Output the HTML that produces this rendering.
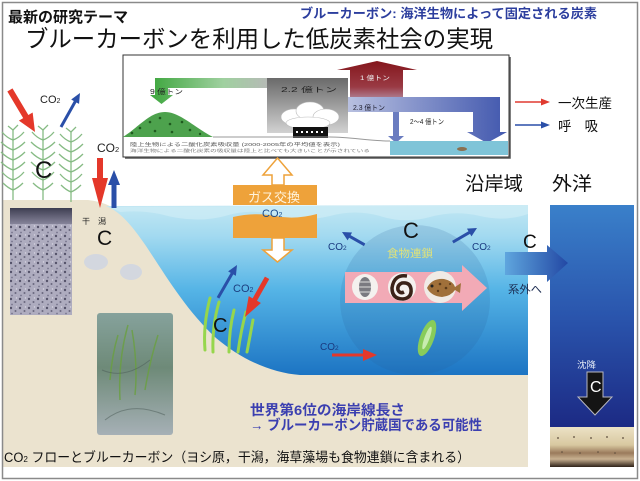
<!DOCTYPE html>
<html><head><meta charset="utf-8">
<style>
html,body{margin:0;padding:0;background:#fff;}
svg{display:block;}
text{font-family:"Liberation Sans","Noto Sans CJK JP",sans-serif;}
</style></head><body>
<svg width="640" height="481" viewBox="0 0 640 481" xmlns="http://www.w3.org/2000/svg">
<defs>
  <linearGradient id="water" gradientUnits="userSpaceOnUse" x1="0" y1="205" x2="0" y2="375">
    <stop offset="0" stop-color="#c2e7f3"/>
    <stop offset="0.18" stop-color="#a3daf0"/>
    <stop offset="0.5" stop-color="#55b4e6"/>
    <stop offset="1" stop-color="#1c74c3"/>
  </linearGradient>
  <linearGradient id="ocean" gradientUnits="userSpaceOnUse" x1="0" y1="205" x2="0" y2="427">
    <stop offset="0" stop-color="#3a80ca"/>
    <stop offset="0.5" stop-color="#2a55ad"/>
    <stop offset="1" stop-color="#1c2a84"/>
  </linearGradient>
  <linearGradient id="sed" gradientUnits="userSpaceOnUse" x1="0" y1="427" x2="0" y2="467">
    <stop offset="0" stop-color="#ece2c6"/>
    <stop offset="0.45" stop-color="#d8c8a0"/>
    <stop offset="0.65" stop-color="#9a7a5c"/>
    <stop offset="0.8" stop-color="#c8b090"/>
    <stop offset="1" stop-color="#2e2218"/>
  </linearGradient>
  <linearGradient id="outArrow" gradientUnits="userSpaceOnUse" x1="505" y1="0" x2="568" y2="0">
    <stop offset="0" stop-color="#5fa6de"/>
    <stop offset="1" stop-color="#2348a4"/>
  </linearGradient>
  <linearGradient id="greenBand" gradientUnits="userSpaceOnUse" x1="150" y1="0" x2="272" y2="0">
    <stop offset="0" stop-color="#3da63d"/>
    <stop offset="0.6" stop-color="#9fd09f"/>
    <stop offset="1" stop-color="#b8b8b8"/>
  </linearGradient>
  <linearGradient id="grayBox" gradientUnits="userSpaceOnUse" x1="0" y1="78" x2="0" y2="133">
    <stop offset="0" stop-color="#6a6a6a"/>
    <stop offset="1" stop-color="#d2d2d2"/>
  </linearGradient>
  <linearGradient id="redUp" gradientUnits="userSpaceOnUse" x1="0" y1="61" x2="0" y2="104">
    <stop offset="0" stop-color="#84161c"/>
    <stop offset="0.6" stop-color="#9a3a44"/>
    <stop offset="1" stop-color="#b8a0b8"/>
  </linearGradient>
  <linearGradient id="blueBand" gradientUnits="userSpaceOnUse" x1="348" y1="0" x2="507" y2="0">
    <stop offset="0" stop-color="#b8c0e0"/>
    <stop offset="1" stop-color="#4258ae"/>
  </linearGradient>
  <linearGradient id="photo2" gradientUnits="userSpaceOnUse" x1="0" y1="313" x2="0" y2="435">
    <stop offset="0" stop-color="#86a29c"/>
    <stop offset="0.45" stop-color="#6e8a78"/>
    <stop offset="1" stop-color="#a6b0b6"/>
  </linearGradient>
  <linearGradient id="coreTop" gradientUnits="userSpaceOnUse" x1="0" y1="208" x2="0" y2="225">
    <stop offset="0" stop-color="#3e3e52"/>
    <stop offset="1" stop-color="#8a889e"/>
  </linearGradient>
  <pattern id="speck" width="9" height="9" patternUnits="userSpaceOnUse">
    <rect width="9" height="9" fill="#aeacbf"/>
    <circle cx="2" cy="2" r="1.2" fill="#55536a"/>
    <circle cx="6.5" cy="5" r="1" fill="#6a687e"/>
    <circle cx="3" cy="7.5" r="0.9" fill="#77758c"/>
    <circle cx="7.5" cy="1" r="0.7" fill="#d8d6e2"/>
  </pattern>
  <g id="reed" stroke="#86bb84" stroke-width="1.3" fill="none">
    <path d="M0,70 L0,0"/>
    <path d="M0,10 Q-6,8 -11,2 M0,10 Q6,8 11,2"/>
    <path d="M0,20 Q-6,18 -12,12 M0,20 Q6,18 12,12"/>
    <path d="M0,30 Q-6,28 -12,22 M0,30 Q6,28 12,22"/>
    <path d="M0,40 Q-6,38 -12,32 M0,40 Q6,38 12,32"/>
    <path d="M0,50 Q-6,48 -11,42 M0,50 Q6,48 11,42"/>
    <path d="M0,60 Q-5,58 -10,53 M0,60 Q5,58 10,53"/>
    <path d="M0,0 L-5,-4 M0,0 L5,-5"/>
  </g>
</defs>

<rect width="640" height="481" fill="#fff"/>

<!-- beige land -->
<path d="M3,200 L88,200 Q100,201 112,207 L528,207 L528,467 L3,467 Z" fill="#ebe3cf"/>

<!-- water -->
<path d="M106,206 L528,205 L528,375 L300,375 C272,373 242,360 216,338 C186,310 166,276 146,246 C132,226 121,212 106,206 Z" fill="url(#water)"/>
<path d="M110,207 L528,205 L528,214 Q505,222 480,216 Q455,210 430,217 Q405,224 380,216 Q355,209 330,216 Q300,223 275,215 Q250,208 225,216 Q195,224 160,214 Q140,210 120,212 Z" fill="#d2eef7" opacity="0.6"/>

<!-- food chain circle -->
<circle cx="415" cy="300" r="75" fill="#2a5c98" opacity="0.17"/>

<!-- outer ocean -->
<rect x="550" y="205" width="84" height="222" fill="url(#ocean)"/>
<rect x="550" y="427" width="84" height="40" fill="url(#sed)"/>
<g fill="#5a4a3a">
  <circle cx="558" cy="438" r="0.9"/><circle cx="574" cy="437" r="0.9"/><circle cx="591" cy="438" r="0.9"/><circle cx="607" cy="437" r="0.9"/><circle cx="623" cy="438" r="0.9"/>
  <circle cx="562" cy="452" r="0.8"/><circle cx="580" cy="453" r="0.8"/><circle cx="598" cy="452" r="0.8"/><circle cx="615" cy="453" r="0.8"/>
</g>

<!-- border -->
<rect x="2.5" y="2.5" width="635" height="476" fill="none" stroke="#8a8a8a" stroke-width="1.5"/>

<!-- titles -->
<text x="8" y="22" font-size="15" font-weight="bold" fill="#111" textLength="120" lengthAdjust="spacingAndGlyphs">最新の研究テーマ</text>
<text x="300" y="18" font-size="13" font-weight="bold" fill="#2c3e9e" textLength="297" lengthAdjust="spacingAndGlyphs">ブルーカーボン: 海洋生物によって固定される炭素</text>
<text x="25" y="47" font-size="23.4" fill="#111" textLength="468" lengthAdjust="spacingAndGlyphs">ブルーカーボンを利用した低炭素社会の実現</text>

<!-- inset figure -->
<rect x="123" y="55" width="386" height="102" fill="#fff" stroke="#333" stroke-width="1"/>
<path d="M510,57 L510,158 L125,158" fill="none" stroke="#555" stroke-width="1.5"/>
<path d="M155,78 L272,78 L272,88 L168,88 L168,95 L173,95 L161.5,104 L150,95 L155,95 Z" fill="url(#greenBand)"/>
<rect x="267" y="78" width="81" height="55" fill="url(#grayBox)"/>
<g fill="#fff" stroke="#bbb" stroke-width="0.6">
  <ellipse cx="294" cy="117" rx="13" ry="8"/>
  <ellipse cx="310" cy="111" rx="14" ry="9"/>
  <ellipse cx="326" cy="117" rx="13" ry="8"/>
  <ellipse cx="308" cy="123" rx="22" ry="6"/>
</g>
<rect x="293" y="127" width="35" height="11" fill="#111"/>
<g fill="#fff"><rect x="296" y="131" width="2" height="2"/><rect x="301" y="131" width="2" height="2"/><rect x="306" y="131" width="2" height="2"/><rect x="311" y="131" width="2" height="2"/><rect x="316" y="131" width="2" height="2"/><rect x="321" y="131" width="2" height="2"/></g>
<path d="M350,104 L350,70 L337,70 L377,61 L417,70 L403,70 L403,104 Z" fill="url(#redUp)"/>
<path d="M348,97 L500,97 L500,132 L507,132 L487,143 L467,132 L473,132 L473,112 L348,112 Z" fill="url(#blueBand)"/>
<rect x="393" y="112" width="6" height="24" fill="#6a7cc0"/>
<path d="M388,136 L404,136 L396,143 Z" fill="#6a7cc0"/>
<path d="M123,137 C140,126 150,112 165,112 C180,112 195,128 213,137 Z" fill="#4da24d"/>
<g fill="#1f5a1f"><circle cx="140" cy="128" r="1.3"/><circle cx="150" cy="122" r="1.3"/><circle cx="160" cy="118" r="1.3"/><circle cx="170" cy="124" r="1.3"/><circle cx="182" cy="122" r="1.3"/><circle cx="190" cy="130" r="1.3"/><circle cx="155" cy="131" r="1.3"/><circle cx="172" cy="132" r="1.3"/><circle cx="132" cy="133" r="1.3"/><circle cx="200" cy="134" r="1.2"/></g>
<path d="M213,137 L330,137 C350,137 370,141 390,141" fill="none" stroke="#999" stroke-width="1"/>
<rect x="390" y="141" width="118" height="14" fill="#7fc4d8"/>
<ellipse cx="462" cy="149" rx="5" ry="2" fill="#8a7050"/>
<text x="150" y="94" font-size="7" fill="#222" textLength="33" lengthAdjust="spacingAndGlyphs">9 億トン</text>
<text x="281" y="92" font-size="7" fill="#222" textLength="56" lengthAdjust="spacingAndGlyphs">2.2 億トン</text>
<text x="360" y="80" font-size="6.5" fill="#eee" textLength="30" lengthAdjust="spacingAndGlyphs">1 億トン</text>
<text x="353" y="110" font-size="7" fill="#223" textLength="32" lengthAdjust="spacingAndGlyphs">2.3 億トン</text>
<text x="410" y="124" font-size="7" fill="#222" textLength="34" lengthAdjust="spacingAndGlyphs">2〜4 億トン</text>
<text x="130" y="146" font-size="4.8" fill="#555" textLength="210" lengthAdjust="spacingAndGlyphs">陸上生物による二酸化炭素吸収量 (2000-2005年の平均値を表示)</text>
<text x="130" y="152" font-size="3.8" fill="#777" textLength="240" lengthAdjust="spacingAndGlyphs">海洋生物による二酸化炭素の吸収量は陸上と比べても大きいことが示されている</text>

<!-- legend -->
<path d="M515,102 L542,102" stroke="#e03a30" stroke-width="1.5"/>
<path d="M541,98.5 L550,102 L541,105.5 Z" fill="#e03a30"/>
<path d="M515,125 L542,125" stroke="#2a4fa8" stroke-width="1.5"/>
<path d="M541,121.5 L550,125 L541,128.5 Z" fill="#2a4fa8"/>
<text x="558" y="108" font-size="13.5" fill="#111" textLength="54" lengthAdjust="spacingAndGlyphs">一次生産</text>
<text x="558" y="131" font-size="13.5" fill="#111" textLength="40" lengthAdjust="spacingAndGlyphs">呼　吸</text>

<text x="465" y="190" font-size="19" fill="#111" textLength="58" lengthAdjust="spacingAndGlyphs">沿岸域</text>
<text x="552" y="190" font-size="19" fill="#111" textLength="40" lengthAdjust="spacingAndGlyphs">外洋</text>

<!-- reeds -->
<use href="#reed" transform="translate(13,130)"/>
<use href="#reed" transform="translate(43,130)"/>
<use href="#reed" transform="translate(71,132)"/>
<text x="35" y="178" font-size="24" fill="#111">C</text>

<!-- top-left arrows -->
<polygon points="-49,-3 -18,-3 -18,-8 0,0 -18,8 -18,3 -49,3" fill="#e4382a" transform="translate(35,132) rotate(59.2)"/>
<polygon points="-39,-1.5 -10,-1.5 -10,-4.5 0,0 -10,4.5 -10,1.5 -39,1.5" fill="#2a4fa8" transform="translate(80,93) rotate(-60.8)"/>
<text x="40" y="103" font-size="11" fill="#222">CO<tspan font-size="7">2</tspan></text>
<text x="97" y="152" font-size="12" fill="#222">CO<tspan font-size="7.5">2</tspan></text>
<polygon points="-50,-3 -30,-3 -30,-8 0,0 -30,8 -30,3 -50,3" fill="#e4382a" transform="translate(100,208) rotate(90)"/>
<polygon points="-38,-2.5 -15,-2.5 -15,-6 0,0 -15,6 -15,2.5 -38,2.5" fill="#2a4fa8" transform="translate(114,170) rotate(-90)"/>

<!-- gas exchange -->
<polygon points="272,185 272,175 263,175 277.5,158 292,175 284,175 284,185" fill="#fff" stroke="#eea23a" stroke-width="1.5"/>
<polygon points="272,238 272,250 263,250 277.5,262 292,250 284,250 284,238" fill="#fff" stroke="#eea23a" stroke-width="1.5"/>
<rect x="233" y="185" width="84" height="20" fill="#eea23a"/>
<text x="248" y="202" font-size="13" fill="#fff3dc" textLength="52" lengthAdjust="spacingAndGlyphs">ガス交換</text>
<path d="M233,217 Q255,212 275,216 T317,214 L317,238 L233,238 Z" fill="#eea23a"/>
<text x="262" y="217" font-size="11" fill="#1d4c8c">CO<tspan font-size="7">2</tspan></text>

<!-- core photo -->
<rect x="10" y="208" width="62" height="107" fill="url(#speck)"/>
<rect x="10" y="208" width="62" height="16" fill="url(#coreTop)"/>
<text x="82" y="224" font-size="8" fill="#222">干　潟</text>
<text x="97" y="245" font-size="21" fill="#111">C</text>
<ellipse cx="96" cy="262" rx="12" ry="8" fill="#d3d7df"/>
<ellipse cx="131" cy="272" rx="11" ry="8" fill="#d3d7df"/>

<!-- seagrass photo -->
<rect x="97" y="313" width="76" height="122" rx="3" fill="url(#photo2)"/>
<g stroke="#6aa040" stroke-width="1.5" fill="none" opacity="0.8">
  <path d="M120,400 Q118,360 128,325"/><path d="M135,395 Q138,365 132,330"/><path d="M145,390 Q150,360 158,335"/><path d="M110,380 Q112,355 118,335"/>
</g>
<g stroke="#4a5a55" stroke-width="1" fill="none" opacity="0.5">
  <path d="M105,420 Q130,400 165,415"/><path d="M102,370 Q125,380 150,360"/>
</g>

<!-- seagrass in water -->
<g stroke="#96d64c" stroke-width="3" fill="none" stroke-linecap="round">
  <path d="M205,350 Q203,325 210,298"/>
  <path d="M213,352 Q212,326 219,302"/>
  <path d="M229,352 Q229,330 234,310"/>
  <path d="M238,352 Q241,330 246,312"/>
  <path d="M247,352 Q250,336 253,320"/>
</g>
<text x="213" y="332" font-size="20" fill="#111">C</text>
<polygon points="-38,-1.5 -10,-1.5 -10,-4.5 0,0 -10,4.5 -10,1.5 -38,1.5" fill="#2a4fa8" transform="translate(237,265) rotate(-60)"/>
<polygon points="-45,-2.5 -20,-2.5 -20,-7 0,0 -20,7 -20,2.5 -45,2.5" fill="#e4382a" transform="translate(245,317) rotate(119.4)"/>
<text x="233" y="292" font-size="11" fill="#1d3f80">CO<tspan font-size="7">2</tspan></text>

<!-- food chain contents -->
<text x="403" y="238" font-size="22" fill="#111">C</text>
<text x="387" y="257" font-size="11" fill="#dfe27a" textLength="46" lengthAdjust="spacingAndGlyphs">食物連鎖</text>
<polygon points="345,272 462,272 462,265 487,288 462,311 462,303 345,303" fill="#f2aab6"/>
<circle cx="365" cy="287" r="13" fill="#f4f1ee"/>
<ellipse cx="365" cy="287" rx="6" ry="10" fill="#7a7a80"/>
<path d="M360,282 L370,282 M359,287 L371,287 M360,292 L370,292" stroke="#ddd" stroke-width="1"/>
<circle cx="402" cy="287" r="14" fill="#f4f1ee"/>
<path d="M407,276 Q394,274 392,288 Q392,299 403,299 Q412,298 411,289 Q410,282 402,283 Q397,285 398,290 Q400,294 404,292" fill="none" stroke="#3a2218" stroke-width="3.5"/>
<circle cx="440" cy="287" r="16" fill="#f0ebe6"/>
<path d="M427,288 Q432,278 444,279 Q453,281 455,287 L461,283 L460,293 L455,290 Q451,296 442,297 Q431,296 427,288 Z" fill="#a0703a"/>
<circle cx="432" cy="286" r="1.5" fill="#222"/>
<g fill="#5a3a1a"><circle cx="440" cy="284" r="1.3"/><circle cx="446" cy="288" r="1.3"/><circle cx="438" cy="291" r="1.2"/><circle cx="450" cy="284" r="1"/></g>
<polygon points="-26,-1.5 -9,-1.5 -9,-4.5 0,0 -9,4.5 -9,1.5 -26,1.5" fill="#2a4fa8" transform="translate(342,232) rotate(209.5)"/>
<polygon points="-28,-1.5 -9,-1.5 -9,-4.5 0,0 -9,4.5 -9,1.5 -28,1.5" fill="#2a4fa8" transform="translate(477,228) rotate(-30.3)"/>
<text x="328" y="250" font-size="10" fill="#1a3a80">CO<tspan font-size="6.5">2</tspan></text>
<text x="472" y="250" font-size="10" fill="#1a3a80">CO<tspan font-size="6.5">2</tspan></text>

<!-- out of system -->
<text x="523" y="248" font-size="19" fill="#111">C</text>
<polygon points="505,252 547,252 547,245 568,263 547,282 547,275 505,275" fill="url(#outArrow)"/>
<text x="508" y="293" font-size="11" fill="#1a2a50" textLength="34" lengthAdjust="spacingAndGlyphs">系外へ</text>

<!-- leaf + bottom CO2 -->
<ellipse cx="427" cy="338" rx="7" ry="19" fill="#88cc5a" transform="rotate(20 427 338)"/>
<ellipse cx="427" cy="338" rx="2.5" ry="12" fill="#c8ecb0" transform="rotate(20 427 338)"/>
<text x="320" y="350" font-size="10" fill="#1a3a80">CO<tspan font-size="6.5">2</tspan></text>
<polygon points="-45,-1.5 -14,-1.5 -14,-6 0,0 -14,6 -14,1.5 -45,1.5" fill="#e4382a" transform="translate(377,355)"/>

<!-- sinking -->
<text x="577" y="368" font-size="9" fill="#e8eef8" textLength="19" lengthAdjust="spacingAndGlyphs">沈降</text>
<polygon points="587,372 603,372 603,397 612,397 595,415 578,397 587,397" fill="#141414" stroke="#b8b8c0" stroke-width="1"/>
<text x="590" y="392" font-size="16" fill="#fff">C</text>

<!-- blue statement -->
<text x="250" y="415" font-size="14" font-weight="bold" fill="#3b3fb0" textLength="155" lengthAdjust="spacingAndGlyphs">世界第6位の海岸線長さ</text>
<text x="250" y="430" font-size="14" font-weight="bold" fill="#3b3fb0" textLength="232" lengthAdjust="spacingAndGlyphs">→ ブルーカーボン貯蔵国である可能性</text>

<!-- caption -->
<text x="4" y="462" font-size="13.5" fill="#111" textLength="466" lengthAdjust="spacingAndGlyphs">CO<tspan font-size="8.5">2</tspan> フローとブルーカーボン（ヨシ原，干潟，海草藻場も食物連鎖に含まれる）</text>
</svg>
</body></html>
